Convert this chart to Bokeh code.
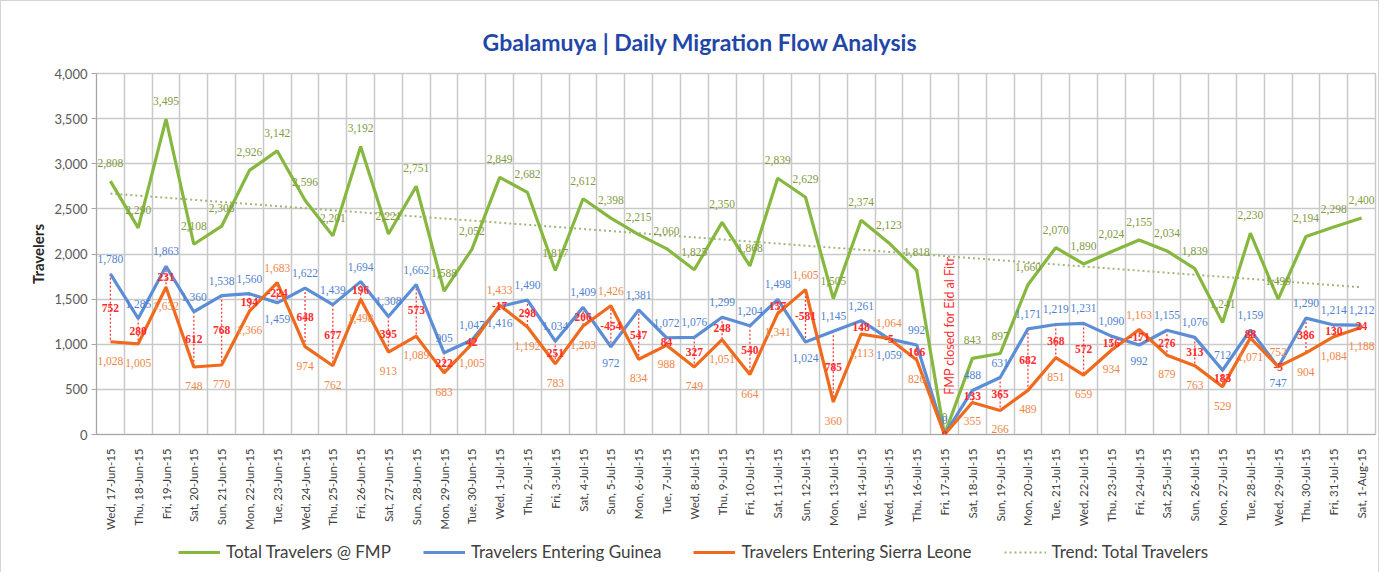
import numpy as np
from bokeh.plotting import figure
from bokeh.layouts import column
from bokeh.models import (ColumnDataSource, LabelSet, Label, Legend, LegendItem,
                          FixedTicker, NumeralTickFormatter, Range1d)
from bokeh.embed import file_html
from bokeh.resources import INLINE

# ---------------- data ----------------
dates = ["Wed, 17-Jun-15", "Thu, 18-Jun-15", "Fri, 19-Jun-15", "Sat, 20-Jun-15", "Sun, 21-Jun-15",
         "Mon, 22-Jun-15", "Tue, 23-Jun-15", "Wed, 24-Jun-15", "Thu, 25-Jun-15", "Fri, 26-Jun-15",
         "Sat, 27-Jun-15", "Sun, 28-Jun-15", "Mon, 29-Jun-15", "Tue, 30-Jun-15", "Wed, 1-Jul-15",
         "Thu, 2-Jul-15", "Fri, 3-Jul-15", "Sat, 4-Jul-15", "Sun, 5-Jul-15", "Mon, 6-Jul-15",
         "Tue, 7-Jul-15", "Wed, 8-Jul-15", "Thu, 9-Jul-15", "Fri, 10-Jul-15", "Sat, 11-Jul-15",
         "Sun, 12-Jul-15", "Mon, 13-Jul-15", "Tue, 14-Jul-15", "Wed, 15-Jul-15", "Thu, 16-Jul-15",
         "Fri, 17-Jul-15", "Sat, 18-Jul-15", "Sun, 19-Jul-15", "Mon, 20-Jul-15", "Tue, 21-Jul-15",
         "Wed, 22-Jul-15", "Thu, 23-Jul-15", "Fri, 24-Jul-15", "Sat, 25-Jul-15", "Sun, 26-Jul-15",
         "Mon, 27-Jul-15", "Tue, 28-Jul-15", "Wed, 29-Jul-15", "Thu, 30-Jul-15", "Fri, 31-Jul-15",
         "Sat, 1-Aug-15"]

total = [2808, 2290, 3495, 2108, 2308, 2926, 3142, 2596, 2201, 3192, 2221, 2751, 1588, 2052, 2849,
         2682, 1817, 2612, 2398, 2215, 2060, 1825, 2350, 1868, 2839, 2629, 1505, 2374, 2123, 1818,
         0, 843, 897, 1660, 2070, 1890, 2024, 2155, 2034, 1839, 1241, 2230, 1499, 2194, 2298, 2400]

guinea = [1780, 1285, 1863, 1360, 1538, 1560, 1459, 1622, 1439, 1694, 1308, 1662, 905, 1047, 1416,
          1490, 1034, 1409, 972, 1381, 1072, 1076, 1299, 1204, 1498, 1024, 1145, 1261, 1059, 992,
          0, 488, 631, 1171, 1219, 1231, 1090, 992, 1155, 1076, 712, 1159, 747, 1290, 1214, 1212]

sierra_leone = [1028, 1005, 1632, 748, 770, 1366, 1683, 974, 762, 1498, 913, 1089, 683, 1005, 1433,
                1192, 783, 1203, 1426, 834, 988, 749, 1051, 664, 1341, 1605, 360, 1113, 1064, 826,
                0, 355, 266, 489, 851, 659, 934, 1163, 879, 763, 529, 1071, 752, 904, 1084, 1188]

series_names = ["Total Travelers @ FMP", "Travelers Entering Guinea",
                "Travelers Entering Sierra Leone", "Trend: Total Travelers"]

closure_note = "FMP closed for Eid al Fitr"
closure_day = "Fri, 17-Jul-15"

# ---------------- derived ----------------
n = len(dates)
xs = list(range(n))
coef = np.polyfit(xs, total, 1)
trend = [float(v) for v in np.polyval(coef, xs)]
diff = [g - s for g, s in zip(guinea, sierra_leone)]
mid = [(g + s) / 2 for g, s in zip(guinea, sierra_leone)]

FONT = "Lato"
GREEN = "#86b83f"
BLUE = "#5b8ed6"
ORANGE = "#f06a1e"
TREND = "#a3b67a"
GRID = "#c9c9c9"

src = ColumnDataSource(dict(
    x=xs, total=total, guinea=guinea, sl=sierra_leone, trend=trend, mid=mid,
    total_lbl=[f"{v:,}" for v in total],
    g_lbl=[f"{v:,}" for v in guinea],
    s_lbl=[f"{v:,}" for v in sierra_leone],
    d_lbl=[f"{v:,}" for v in diff],
    g_off=[15 if g >= s else -16 for g, s in zip(guinea, sierra_leone)],
    s_off=[-19 if g >= s else 15 for g, s in zip(guinea, sierra_leone)],
))

FW = 1279
ML, MR = 95, 3

p = figure(frame_width=FW, frame_height=361, output_backend="svg", toolbar_location=None,
           x_range=Range1d(-0.5, n - 0.5), y_range=Range1d(0, 4000),
           min_border_left=ML, min_border_right=MR, min_border_top=72, min_border_bottom=88)

p.title.text = "Gbalamuya | Daily Migration Flow Analysis"
p.title.align = "left"
p.title.offset = 386
p.title.text_font = FONT
p.title.text_font_size = "23px"
p.title.text_font_style = "bold"
p.title.text_color = "#1f47a8"
p.title.standoff = 36

p.outline_line_color = GRID
p.outline_line_width = 1.5

# grid
p.xgrid.ticker = FixedTicker(ticks=[i - 0.5 for i in range(n + 1)])
p.xgrid.grid_line_color = GRID
p.xgrid.grid_line_width = 1.5
p.ygrid.ticker = FixedTicker(ticks=list(range(0, 4001, 500)))
p.ygrid.grid_line_color = GRID
p.ygrid.grid_line_width = 1.5

# axes
p.yaxis.ticker = FixedTicker(ticks=list(range(0, 4001, 500)))
p.yaxis.formatter = NumeralTickFormatter(format="0,0")
p.yaxis.axis_label = "Travelers"
p.yaxis.axis_label_text_font = FONT
p.yaxis.axis_label_text_font_size = "15px"
p.yaxis.axis_label_text_font_style = "bold"
p.yaxis.axis_label_text_color = "#262626"
p.yaxis.axis_label_standoff = 4
p.yaxis.major_label_text_font = FONT
p.yaxis.major_label_text_font_size = "13px"
p.yaxis.major_label_text_color = "#595959"
p.yaxis.major_label_standoff = 4
p.yaxis.axis_line_color = "#a6a6a6"
p.yaxis.major_tick_line_color = "#a6a6a6"
p.yaxis.major_tick_out = 5
p.yaxis.major_tick_in = 0
p.yaxis.minor_tick_line_color = None

p.xaxis.ticker = FixedTicker(ticks=xs)
p.xaxis.major_label_overrides = {i: d for i, d in enumerate(dates)}
p.xaxis.major_label_orientation = np.pi / 2
p.xaxis.major_label_text_font = FONT
p.xaxis.major_label_text_font_size = "11.5px"
p.xaxis.major_label_text_color = "#404040"
p.xaxis.axis_line_color = "#a6a6a6"
p.xaxis.major_tick_line_color = None
p.xaxis.minor_tick_line_color = None
p.xaxis.major_label_standoff = 8

# high-low lines
p.segment(x0="x", y0="guinea", x1="x", y1="sl", source=src,
          line_color="#ff3b3b", line_dash="2 2", line_width=1.3)

# series
p.line("x", "trend", source=src, line_color=TREND, line_width=2, line_dash="2 3")
p.line("x", "total", source=src, line_color=GREEN, line_width=3.2)
p.line("x", "guinea", source=src, line_color=BLUE, line_width=3.2)
p.line("x", "sl", source=src, line_color=ORANGE, line_width=3.2)

# data labels
common = dict(source=src, x="x", text_font=FONT, text_font_size="11.5px",
              text_align="center", text_baseline="middle")
p.add_layout(LabelSet(y="total", text="total_lbl", y_offset=18, text_color="#7f9a3f", **common))
p.add_layout(LabelSet(y="guinea", text="g_lbl", y_offset="g_off", text_color="#4f7fd0", **common))
p.add_layout(LabelSet(y="sl", text="s_lbl", y_offset="s_off", text_color="#f08545", **common))
p.add_layout(LabelSet(y="mid", text="d_lbl", text_color="#ff2a2a", text_font_style="bold", **common))

# closure annotation
p.add_layout(Label(x=dates.index(closure_day), y=440, text=closure_note, angle=np.pi / 2,
                   text_font=FONT, text_font_size="12.5px", text_color="#ff2a2a",
                   text_align="left", text_baseline="middle", x_offset=5))

# ---------------- legend strip ----------------
LW = ML + FW + MR
pl = figure(width=LW, height=42, output_backend="svg", toolbar_location=None,
            x_range=Range1d(-100, -99), y_range=Range1d(-100, -99), min_border=0,
            x_axis_location=None, y_axis_location=None)
pl.grid.visible = False
pl.outline_line_color = None
# one-point (invisible) lines that only carry the legend styling
lr = [
    pl.line([xs[0]], [total[0]], line_color=GREEN, line_width=3.2),
    pl.line([xs[0]], [guinea[0]], line_color=BLUE, line_width=3.2),
    pl.line([xs[0]], [sierra_leone[0]], line_color=ORANGE, line_width=3.2),
    pl.line([xs[0]], [trend[0]], line_color=TREND, line_width=2, line_dash="2 3"),
]
legend = Legend(items=[LegendItem(label=nm, renderers=[r]) for nm, r in zip(series_names, lr)],
                orientation="horizontal", location=(82, 12), spacing=32, glyph_width=42,
                label_text_font=FONT, label_text_font_size="17px", label_text_color="#404040",
                border_line_color=None, background_fill_alpha=0, label_standoff=6,
                margin=0, padding=0)
pl.add_layout(legend)

layout = column(p, pl, spacing=0)
layout.styles = {"border": "1px solid #d4d4d4"}

open("out.html", "w").write(file_html(layout, INLINE))
